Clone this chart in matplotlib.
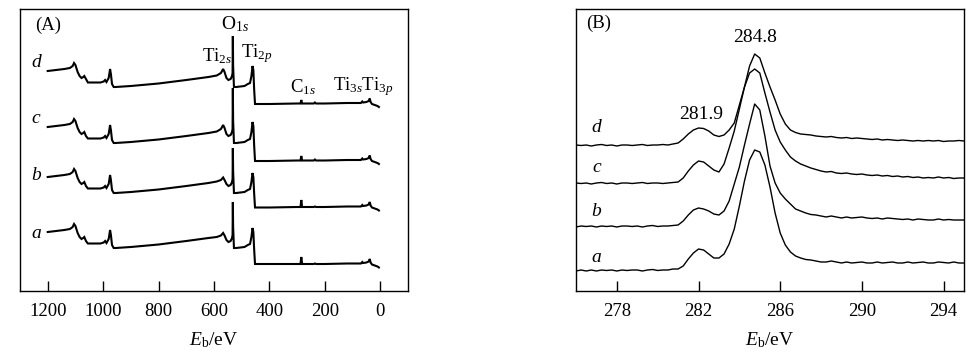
import numpy as np
import matplotlib
matplotlib.use("Agg")
import matplotlib.pyplot as plt

plt.rcParams['font.family'] = ['Liberation Serif', 'DejaVu Serif']
plt.rcParams['mathtext.fontset'] = 'custom'
plt.rcParams['mathtext.rm'] = 'Liberation Serif'
plt.rcParams['mathtext.it'] = 'Liberation Serif:italic'

# ---------------- Panel A: survey spectra ----------------
energy_A = [1200, 1170, 1140, 1120, 1110, 1105, 1100, 1092, 1085, 1078,
            1072, 1068, 1062, 1055, 1040, 1010, 998, 993, 988, 980,
            975, 972, 968, 962, 955, 900, 800, 700, 620, 590,
            575, 567, 562, 555, 548, 540, 535, 533, 532, 531,
            528, 520, 505, 490, 478, 470, 465, 461, 458, 455,
            452, 440, 400, 300, 288, 285, 282, 270, 240, 236,
            232, 200, 120, 70, 65, 62, 50, 42, 38, 35,
            30, 20, 10, 5]

survey_d = [220, 221, 222, 223, 225, 228, 226, 219, 215, 213,
            214, 215, 212, 208.5, 208.5, 208.5, 209.5, 211, 209, 213,
            222, 217, 207, 204, 204, 205, 207.5, 211, 214, 215.5,
            218, 222, 219, 213, 211, 212, 215, 218, 255, 225,
            204, 204, 204.5, 205, 207, 208, 215, 225, 221, 201,
            187, 187, 187, 187.5, 187.5, 191, 187.5, 187.5, 187.5, 188.5,
            187.5, 187.5, 188, 188, 189.5, 188.5, 189, 190, 192.5, 189,
            187, 186, 185, 184]
survey_c = [164, 165, 166, 167, 169, 172, 170, 163, 159, 157,
            158, 159, 155, 152.5, 152.5, 152.5, 153.5, 155, 153, 157,
            166, 161, 151, 148, 148, 149, 151.5, 155, 158, 159.5,
            162, 166, 163, 157, 155, 156, 159, 162, 203, 170,
            148, 148, 148.5, 149, 151, 152, 159, 169, 165, 145,
            130, 130, 130, 130.5, 130.5, 135, 130.5, 130.5, 130.5, 131.5,
            130.5, 130.5, 131, 131, 132.5, 131.5, 132, 133, 135.5, 132,
            130, 129, 128, 127]
survey_b = [114, 115, 116, 117, 119, 122, 120, 113, 109, 107,
            108, 109, 105, 102.5, 102.5, 102.5, 103.5, 105, 103, 107,
            116, 111, 101, 98, 98, 99, 101.5, 105, 108, 109.5,
            111, 113.5, 111, 107, 105, 106, 109, 112, 143, 120,
            98, 98, 98.5, 99, 101, 102, 109, 118, 114, 97,
            83.5, 83.5, 83.5, 84, 84, 91, 84, 84, 84, 84.5,
            84, 84, 84.5, 84.5, 86, 85, 85.5, 86.5, 89, 85.5,
            83.5, 82.5, 81.5, 80.5]
survey_a = [59, 60, 61, 62, 64, 67, 65, 58, 54, 52,
            53, 54, 50, 47.5, 47.5, 47.5, 48.5, 50, 48, 52,
            61, 56, 46, 43, 43, 44, 46.5, 50, 53, 54,
            55.5, 58, 55.5, 51, 49, 50, 53, 56, 89, 64,
            43, 43, 43.5, 44, 46, 47, 54, 63, 59, 41,
            27, 27, 27, 27, 27, 34, 27, 27, 27, 27.5,
            27, 27, 27.5, 27.5, 29, 28, 28.5, 29.5, 32, 28.5,
            26.5, 25.5, 24.5, 23.5]

# ---------------- Panel B: C 1s spectra ----------------
energy_B = np.arange(276.0, 295.001, 0.25)

c1s_a = [20, 21, 20, 21, 20, 21, 20.5, 21, 20, 21, 20.5, 21, 21, 20, 21, 21.5, 20.5, 21, 21, 22,
         22, 25, 32, 38, 42, 41, 37, 33, 33, 37, 47, 62, 85, 110, 131, 141, 139, 126, 104, 78,
         58, 46, 39, 35, 33, 31.5, 31, 30, 29,
         29, 30, 29, 28, 29, 28, 28.5, 29, 28, 28, 29, 28, 28.5, 29, 28, 28, 29, 28, 28.5, 29,
         28, 28, 29, 28.5, 28, 29, 28, 28]
c1s_b = [64, 65, 64.5, 65, 64, 65, 64.5, 65, 64, 65, 65, 64.5, 65, 64, 65, 65.5, 64.5, 65, 65, 65.5,
         66, 70, 76, 81, 83, 82, 80, 77, 76, 80, 90, 107, 124, 146, 167, 187, 181, 155, 125, 108,
         98, 92, 87, 82, 80, 78, 76.5, 76, 75,
         74, 75, 74, 73, 74, 73, 73.5, 74, 73, 72.5, 73, 72, 73, 72.5, 72, 71.5, 72, 71, 72, 71.5,
         71, 71, 72, 71, 71.5, 71, 71, 71]
c1s_c = [108, 107.5, 108, 107, 108, 108.5, 107.5, 108, 107, 108, 108, 107.5, 108, 108.5, 107.5, 108, 108, 107.5, 108, 108.5,
         109, 113, 120, 126, 130, 129, 125, 121, 119, 127, 143, 160, 182, 204, 218, 222, 218, 198, 179, 161,
         149, 141, 134, 130, 127, 125, 123, 121.5, 120,
         119, 119.5, 118, 117.5, 118, 117, 116.5, 117, 116, 115.5, 116, 115, 115.5, 114.5, 115, 114, 114.5, 113.5, 114, 113,
         113.5, 113, 114, 113, 113.5, 112.5, 113, 113]
c1s_d = [146, 145.5, 146, 145, 146, 146.5, 145.5, 146, 145, 146, 146, 145.5, 146, 146.5, 145.5, 146, 146, 146.5, 146, 147,
         148, 152, 157, 161, 163, 162.5, 160, 156, 154.5, 156, 161, 168, 186, 204, 225, 237, 233, 218, 204, 191,
         177, 167, 161, 158.5, 157, 156.5, 156, 155, 154.5,
         154, 154.5, 153.5, 153, 153.5, 152.5, 153, 152.5, 152, 151.5, 152, 151, 151.5, 151, 150.5, 151, 150.5, 150, 150.5, 150,
         150.5, 150, 150.5, 149.5, 150, 150, 150.5, 150]

curve_names = ['a', 'b', 'c', 'd']
ticks_A = [1200, 1000, 800, 600, 400, 200, 0]
ticks_B = [278, 282, 286, 290, 294]

fig = plt.figure(figsize=(9.76, 3.64), dpi=100)
axA = fig.add_axes([20/976, 73/364, 388/976, 282/364])
axB = fig.add_axes([576/976, 73/364, 388/976, 282/364])

for s in [survey_a, survey_b, survey_c, survey_d]:
    axA.plot(energy_A, s, color='black', lw=1.5, solid_joinstyle='miter')
for s in [c1s_a, c1s_b, c1s_c, c1s_d]:
    axB.plot(energy_B, s, color='black', lw=1.0)

axA.set_xlim(1300, -100)
axA.set_ylim(0, 282)
axB.set_xlim(276, 295)
axB.set_ylim(0, 282)

for ax, ticks in [(axA, ticks_A), (axB, ticks_B)]:
    ax.set_xticks(ticks)
    ax.set_yticks([])
    ax.tick_params(axis='x', direction='in', length=7, width=1, pad=9,
                   labelsize=13.5, top=False)
    for sp in ax.spines.values():
        sp.set_linewidth(1.0)
    ax.set_xlabel(r'$\mathit{E}_{\mathrm{b}}$/eV', fontsize=14, labelpad=7)

# Panel A labels
axA.text(1199, 266, '(A)', fontsize=13.5, ha='center', va='center')
for name, yv in zip(curve_names, [58, 115, 172, 228]):
    axA.text(1243, yv, name, fontsize=14, style='italic', ha='center', va='center')
axA.text(526, 267, r'O$_{1\mathit{s}}$', fontsize=14, ha='center', va='center')
axA.text(590, 235, r'Ti$_{2\mathit{s}}$', fontsize=13.5, ha='center', va='center')
axA.text(446, 237, r'Ti$_{2\mathit{p}}$', fontsize=13.5, ha='center', va='center')
axA.text(280, 204, r'C$_{1\mathit{s}}$', fontsize=13.5, ha='center', va='center')
axA.text(60, 204, r'Ti$_{3\mathit{s}}$Ti$_{3\mathit{p}}$', fontsize=13.5, ha='center', va='center')

# Panel B labels
axB.text(277.1, 268, '(B)', fontsize=13.5, ha='center', va='center')
for name, yv in zip(curve_names, [34, 80, 123, 163]):
    axB.text(277.0, yv, name, fontsize=14, style='italic', ha='center', va='center')
axB.text(282.14, 176, '281.9', fontsize=14, ha='center', va='center')
axB.text(284.77, 253, '284.8', fontsize=14, ha='center', va='center')

fig.savefig('out.png', dpi=100)
